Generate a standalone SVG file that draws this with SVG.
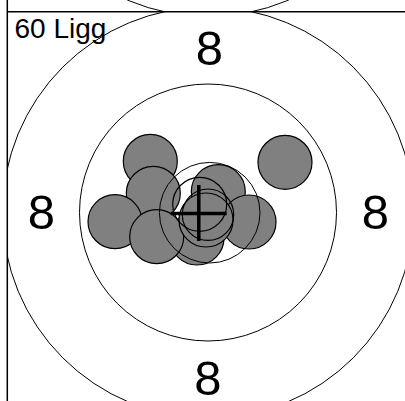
<svg xmlns="http://www.w3.org/2000/svg" width="405" height="401" viewBox="0 0 405 401">
<style>
.ring{fill:none;stroke:#000;stroke-width:1}
.shot{fill:#808080;stroke:#000;stroke-width:1.2}
.open{fill:none;stroke:#000;stroke-width:1.2}
.lbl{font-family:"Liberation Sans",Arial,sans-serif;font-size:49px;fill:#000;text-anchor:middle}
.title{font-family:"Liberation Sans",Arial,sans-serif;font-size:28px;fill:#000}
.border{stroke:#000;stroke-width:1.5}
</style>
<defs>
<clipPath id="upper"><rect x="7" y="-500" width="400" height="511.7"/></clipPath>
<clipPath id="panel"><rect x="7.3" y="11.7" width="400" height="400"/></clipPath>
</defs>
<rect width="405" height="401" fill="#fff"/>
<g id="upper-target" clip-path="url(#upper)">
<circle class="ring" cx="208" cy="-189" r="205.5"/>
</g>
<g id="target" clip-path="url(#panel)">
<circle class="ring" cx="208" cy="212.5" r="205.5"/>
<circle class="ring" cx="208" cy="212.5" r="128.5"/>
<g id="shots">
<circle class="shot" cx="150.3" cy="161.3" r="27"/>
<circle class="shot" cx="285" cy="162.3" r="27"/>
<circle class="shot" cx="153.3" cy="193.3" r="27"/>
<circle class="shot" cx="218.3" cy="191.7" r="27"/>
<circle class="shot" cx="249" cy="222" r="27"/>
<circle class="shot" cx="115" cy="221.7" r="27"/>
<circle class="shot" cx="197" cy="238" r="27"/>
<circle class="shot" cx="156.7" cy="236.7" r="27"/>
<circle class="shot" cx="206" cy="220" r="27"/>
<circle class="open" cx="199.7" cy="204.3" r="27"/>
<circle class="open" cx="208" cy="214.7" r="25.7"/>
</g>
<circle class="ring" cx="209.7" cy="212.7" r="50.3"/>
<g id="mean">
<line x1="170.7" y1="213.5" x2="226.7" y2="213.5" stroke="#000" stroke-width="3.5"/>
<line x1="198.8" y1="185" x2="198.8" y2="241" stroke="#000" stroke-width="3.5"/>
</g>
<text class="lbl" x="209.5" y="65">8</text>
<text class="lbl" x="208" y="395">8</text>
<text class="lbl" x="41.3" y="229">8</text>
<text class="lbl" x="375.5" y="228.5">8</text>
<text class="title" x="14.5" y="37.5">60 Ligg</text>
</g>
<g id="frame">
<line class="border" x1="7.3" y1="0" x2="7.3" y2="401"/>
<line class="border" x1="7.3" y1="11.7" x2="405" y2="11.7"/>
</g>
</svg>
